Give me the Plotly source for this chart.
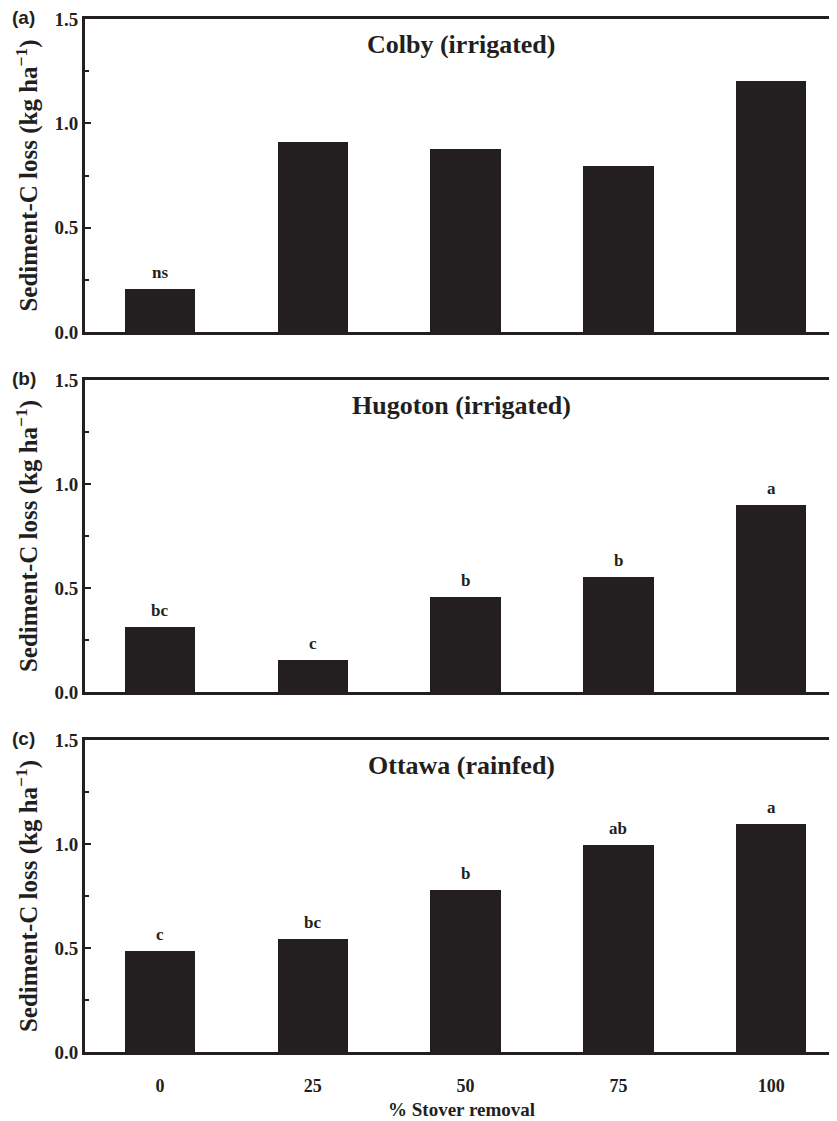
import plotly.graph_objects as go
from plotly.subplots import make_subplots

categories = ["0", "25", "50", "75", "100"]
colby = [0.205, 0.91, 0.877, 0.797, 1.202]
hugoton = [0.311, 0.154, 0.458, 0.552, 0.898]
ottawa = [0.485, 0.541, 0.778, 0.993, 1.096]
colby_letters = ["ns", "", "", "", ""]
hugoton_letters = ["bc", "c", "b", "b", "a"]
ottawa_letters = ["c", "bc", "b", "ab", "a"]
titles = ["Colby (irrigated)", "Hugoton (irrigated)", "Ottawa (rainfed)"]
panel_labels = ["(a)", "(b)", "(c)"]
y_ticks = [0.0, 0.5, 1.0, 1.5]
y_tick_text = ["0.0", "0.5", "1.0", "1.5"]
x_title = "% Stover removal"
y_title = "Sediment-C loss (kg ha<sup>−1</sup>)"

series = [colby, hugoton, ottawa]
letters = [colby_letters, hugoton_letters, ottawa_letters]

BAR = "#231f20"
SERIF = "Liberation Serif"

fig = make_subplots(rows=3, cols=1)

domains = [[0.697, 1.0], [0.3485, 0.6505], [0.0, 0.302]]

for i in range(3):
    r = i + 1
    fig.add_trace(go.Bar(x=list(range(len(categories))), y=series[i],
                         marker=dict(color=BAR, line=dict(width=0)),
                         width=0.46, showlegend=False), row=r, col=1)
    xa = "x" if r == 1 else f"x{r}"
    ya = "y" if r == 1 else f"y{r}"
    for j, (v, t) in enumerate(zip(series[i], letters[i])):
        if t:
            fig.add_annotation(x=j, y=v, xref=xa, yref=ya, text=f"<b>{t}</b>",
                               showarrow=False, yanchor="bottom", yshift=5,
                               font=dict(family=SERIF, size=17, color="#231f20"))
    fig.add_annotation(x=0.5, y=domains[i][1], xref="paper", yref="paper",
                       text=f"<b>{titles[i]}</b>", showarrow=False,
                       yanchor="middle", yshift=-25,
                       font=dict(family=SERIF, size=26, color="#231f20"))
    fig.add_annotation(x=-0.1, y=domains[i][1], xref="paper", yref="paper",
                       text=f"<b>{panel_labels[i]}</b>", showarrow=False,
                       xanchor="left", yanchor="middle", xshift=0, yshift=2,
                       font=dict(family="Liberation Sans", size=19, color="#231f20"))
    fig.update_yaxes(row=r, col=1, domain=domains[i], range=[0, 1.5],
                     automargin=False,
                     tickvals=y_ticks, ticktext=y_tick_text,
                     ticks="inside", ticklen=6, tickwidth=2, tickcolor="#231f20",
                     minor=dict(dtick=0.25, tick0=0, ticks="inside", ticklen=4,
                                tickwidth=2, tickcolor="#231f20"),
                     showline=True, linewidth=3, linecolor="#231f20",
                     showgrid=False, zeroline=False,
                     tickfont=dict(family=SERIF, size=19, color="#231f20", weight="bold"),
                     title=dict(text=f"<b>{y_title}</b>",
                                font=dict(family=SERIF, size=25, color="#231f20"),
                                standoff=10))
    fig.update_xaxes(row=r, col=1, range=[-0.49, 4.43],
                     automargin=False,
                     tickvals=list(range(len(categories))),
                     ticktext=[f"<b>{c}</b>" for c in categories],
                     showticklabels=(r == 3), ticks="", ticklabelstandoff=15,
                     showline=True, mirror=True, linewidth=3, linecolor="#231f20",
                     showgrid=False, zeroline=False,
                     tickfont=dict(family=SERIF, size=18, color="#231f20"))

fig.add_annotation(x=0.5, y=0, xref="paper", yref="paper",
                   text=f"<b>{x_title}</b>", showarrow=False,
                   yanchor="middle", yshift=-57,
                   font=dict(family=SERIF, size=19, color="#231f20"))

# page body has an 8px margin; compensate so the plot area lands where the reference has it
fig.update_layout(width=829, height=1113,
                  margin=dict(l=77, r=0, t=11, b=69),
                  plot_bgcolor="white", paper_bgcolor="white",
                  bargap=0)

fig.write_html("out.html")
